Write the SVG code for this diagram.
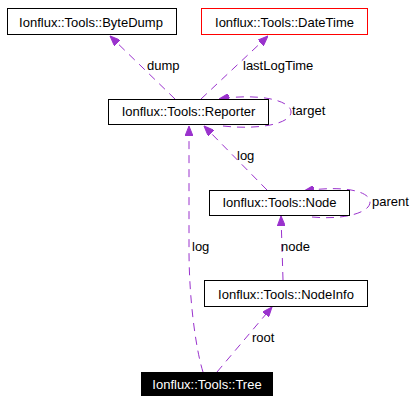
<svg xmlns="http://www.w3.org/2000/svg" width="417" height="403" viewBox="0 0 417 403">
<style>
.box{fill:#ffffff;stroke:#000000;stroke-width:1}
.t{font-family:"Liberation Sans",Arial,sans-serif;font-size:13px;fill:#000000}
.c{text-anchor:middle}
.e{fill:none;stroke:#9a32cd;stroke-width:1;stroke-dasharray:8,6}
</style>
<defs>
<marker id="ah" viewBox="0 0 10 8" refX="10" refY="4" markerWidth="10" markerHeight="8" markerUnits="userSpaceOnUse" orient="auto">
<path d="M0,0 L10,4 L0,8 Z" fill="#9a32cd" stroke="#9a32cd"/>
</marker>
</defs>
<rect width="417" height="403" fill="#ffffff"/>
<g id="edges">
<path class="e" d="M175,99 L110,36" marker-end="url(#ah)"/>
<text class="t" x="147" y="70">dump</text>
<path class="e" d="M201,99 L268,36" marker-end="url(#ah)"/>
<text class="t" x="243" y="70">lastLogTime</text>
<path class="e" d="M223,126 C258,130 291,124 291,112 C291,100 258,93 219,99" marker-end="url(#ah)"/>
<text class="t" x="292" y="115">target</text>
<path class="e" d="M267,190 L204,126" marker-end="url(#ah)"/>
<text class="t" x="237" y="160">log</text>
<path class="e" d="M203,372 C196,350 189,300 189,250 L189,126" marker-end="url(#ah)"/>
<text class="t" x="192" y="251">log</text>
<path class="e" d="M283,280 L281,216" marker-end="url(#ah)"/>
<text class="t" x="281" y="251">node</text>
<path class="e" d="M312,217 C343,220 370,213 370,202 C370,191 343,185 304,191" marker-end="url(#ah)"/>
<text class="t" x="372" y="206">parent</text>
<path class="e" d="M217,372 L272,307" marker-end="url(#ah)"/>
<text class="t" x="252" y="342">root</text>
</g>
<g id="ByteDump">
<rect class="box" x="7.5" y="8.5" width="169" height="26"/>
<text class="t c" x="91" y="26.5">Ionflux::Tools::ByteDump</text>
</g>
<g id="DateTime">
<rect class="box" x="201.5" y="8.5" width="166" height="26" style="stroke:#ff0000"/>
<text class="t c" x="284.5" y="26.5">Ionflux::Tools::DateTime</text>
</g>
<g id="Reporter">
<rect class="box" x="108.5" y="99.5" width="160" height="25"/>
<text class="t c" x="188.5" y="116">Ionflux::Tools::Reporter</text>
</g>
<g id="Node">
<rect class="box" x="209.5" y="190.5" width="140" height="25"/>
<text class="t c" x="279.5" y="207">Ionflux::Tools::Node</text>
</g>
<g id="NodeInfo">
<rect class="box" x="204.5" y="280.5" width="163" height="26"/>
<text class="t c" x="286" y="298.5">Ionflux::Tools::NodeInfo</text>
</g>
<g id="Tree">
<rect x="141" y="372" width="132" height="24" fill="#000000"/>
<text class="t c" x="207" y="388.5" style="fill:#ffffff">Ionflux::Tools::Tree</text>
</g>
</svg>
